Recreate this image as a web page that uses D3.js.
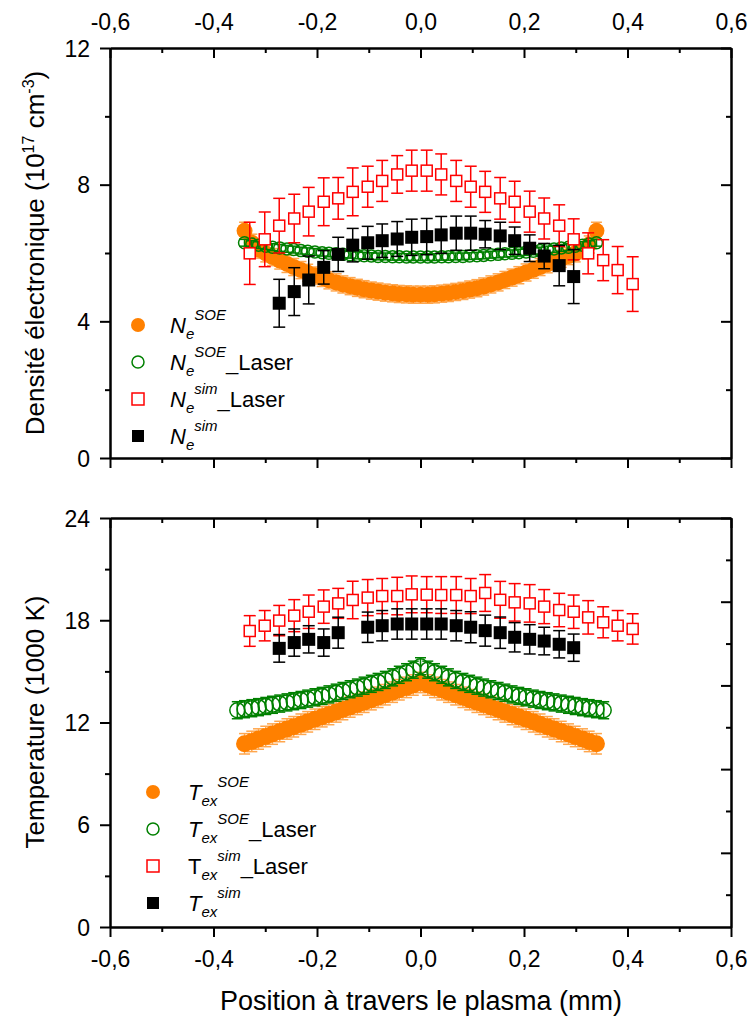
<!DOCTYPE html>
<html><head><meta charset="utf-8">
<script src="https://cdn.jsdelivr.net/npm/d3@7"></script>
<style>
body{margin:0;background:#fff}
svg{display:block}
text{font-family:"Liberation Sans",Arial,sans-serif;fill:#000}
</style>
</head><body>
<svg id="c" width="750" height="1017"></svg>
<script>
// ---------- DATA ----------
const xTicks = [-0.6,-0.4,-0.2,0.0,0.2,0.4,0.6];
const xMinorTicks = [-0.5,-0.3,-0.1,0.1,0.3,0.5];
const yTopTicks = [0,4,8,12];
const yTopMinor = [2,6,10];
const yBotTicks = [0,6,12,18,24];
const yBotMinor = [3,9,15,21];
const yBotRightTicks = [-4,-3,-2,-1,0];
const yBotRightMinor = [-4.5,-3.5,-2.5,-1.5,-0.5];

// dense SOE positions (mm)
const xSOE = [-0.340,-0.326,-0.313,-0.299,-0.286,-0.272,-0.258,-0.245,-0.231,-0.218,-0.204,-0.190,-0.177,-0.163,-0.150,-0.136,-0.122,-0.109,-0.095,-0.082,-0.068,-0.054,-0.041,-0.027,-0.014,0.000,0.014,0.027,0.041,0.054,0.068,0.082,0.095,0.109,0.122,0.136,0.150,0.163,0.177,0.190,0.204,0.218,0.231,0.245,0.258,0.272,0.286,0.299,0.313,0.326,0.340];
const xTLaser = [-0.354,-0.340,-0.326,-0.313,-0.299,-0.286,-0.272,-0.258,-0.245,-0.231,-0.218,-0.204,-0.190,-0.177,-0.163,-0.150,-0.136,-0.122,-0.109,-0.095,-0.082,-0.068,-0.054,-0.041,-0.027,-0.014,0.000,0.014,0.027,0.041,0.054,0.068,0.082,0.095,0.109,0.122,0.136,0.150,0.163,0.177,0.190,0.204,0.218,0.231,0.245,0.258,0.272,0.286,0.299,0.313,0.326,0.340,0.354];
// simulation positions (mm)
const xSim = [-0.330,-0.301,-0.273,-0.244,-0.216,-0.187,-0.159,-0.131,-0.102,-0.074,-0.045,-0.017,0.012,0.040,0.069,0.097,0.125,0.154,0.182,0.211,0.239,0.268,0.296,0.324,0.353,0.381,0.410];
const xNeSim = [-0.273,-0.244,-0.216,-0.187,-0.159,-0.131,-0.102,-0.074,-0.045,-0.017,0.012,0.040,0.069,0.097,0.125,0.154,0.182,0.211,0.239,0.268,0.296];
const xTSim = [-0.273,-0.244,-0.216,-0.187,-0.159,-0.102,-0.074,-0.045,-0.017,0.012,0.040,0.069,0.097,0.125,0.154,0.182,0.211,0.239,0.268,0.296];

// electron density (1e17 cm-3)
const neSOE = [6.65,6.30,6.10,5.99,5.88,5.78,5.68,5.59,5.50,5.42,5.34,5.27,5.20,5.14,5.08,5.03,4.98,4.94,4.90,4.87,4.84,4.82,4.80,4.79,4.78,4.78,4.78,4.79,4.81,4.83,4.86,4.89,4.93,4.97,5.02,5.08,5.14,5.21,5.28,5.35,5.43,5.51,5.59,5.67,5.75,5.83,5.91,5.99,6.08,6.25,6.65];
const neSOEErr = 0.25;
const neSOELaser = [6.30,6.26,6.23,6.20,6.17,6.15,6.12,6.10,6.07,6.05,6.03,6.01,5.99,5.98,5.96,5.95,5.93,5.92,5.91,5.90,5.90,5.89,5.89,5.88,5.88,5.88,5.88,5.88,5.89,5.89,5.90,5.90,5.91,5.92,5.93,5.95,5.96,5.98,5.99,6.01,6.03,6.05,6.07,6.10,6.12,6.15,6.17,6.20,6.23,6.26,6.30];
const neSOELaserErr = 0.1;
const neSimLaser = [5.99,6.40,6.80,7.01,7.21,7.50,7.60,7.79,7.94,8.11,8.30,8.41,8.41,8.30,8.11,7.94,7.79,7.60,7.50,7.21,7.01,6.80,6.40,5.99,5.79,5.50,5.09];
const neSimLaserErr = [0.91,0.80,0.80,0.71,0.71,0.70,0.61,0.70,0.60,0.60,0.55,0.60,0.60,0.60,0.60,0.60,0.60,0.61,0.60,0.60,0.60,0.61,0.60,0.60,0.60,0.69,0.80];
const neSim = [4.53,4.87,5.21,5.58,5.96,6.23,6.30,6.36,6.41,6.46,6.48,6.53,6.58,6.58,6.55,6.50,6.36,6.14,5.91,5.63,5.31];
const neSimErr = [0.70,0.70,0.70,0.49,0.50,0.49,0.48,0.49,0.51,0.53,0.53,0.54,0.50,0.50,0.40,0.40,0.40,0.39,0.37,0.59,0.79];

// excitation temperature (1000 K)
const tSOE = [10.75,10.89,11.03,11.18,11.32,11.47,11.62,11.75,11.90,12.04,12.19,12.34,12.47,12.62,12.76,12.91,13.06,13.19,13.34,13.48,13.63,13.78,13.92,14.06,14.20,14.35,14.20,14.06,13.92,13.78,13.63,13.48,13.34,13.19,13.06,12.91,12.76,12.62,12.47,12.34,12.19,12.04,11.90,11.75,11.62,11.47,11.32,11.18,11.03,10.89,10.75];
const tSOEErr = 0.6;
const tSOELaser = [12.72,12.78,12.84,12.90,12.97,13.04,13.11,13.18,13.25,13.32,13.40,13.48,13.56,13.65,13.75,13.85,13.95,14.05,14.16,14.27,14.38,14.50,14.65,14.80,14.95,15.10,15.30,15.10,14.95,14.80,14.65,14.50,14.38,14.27,14.16,14.05,13.95,13.85,13.75,13.65,13.56,13.48,13.40,13.32,13.25,13.18,13.11,13.04,12.97,12.90,12.84,12.78,12.72];
const tSOELaserErr = 0.5;
const tSimLaser = [17.37,17.68,17.98,18.27,18.50,18.80,18.99,19.19,19.33,19.42,19.42,19.52,19.50,19.48,19.48,19.42,19.60,19.20,19.05,18.99,18.80,18.60,18.50,18.17,17.88,17.68,17.49];
const tSimLaserErr = [0.90,0.89,0.89,0.94,0.98,0.98,0.88,1.10,1.06,1.03,1.10,1.08,1.06,1.08,1.08,1.03,1.08,1.08,1.10,1.10,1.00,0.98,0.98,0.98,0.91,0.89,0.89];
const tSim = [16.35,16.69,16.88,16.69,17.27,17.59,17.68,17.78,17.78,17.78,17.78,17.68,17.59,17.39,17.27,17.00,16.88,16.78,16.59,16.39];
const tSimErr = [0.81,0.80,0.80,0.80,0.91,0.89,0.89,0.89,0.89,0.89,0.89,0.89,0.91,0.91,0.92,0.86,0.86,0.81,0.80,0.80];

// ---------- STYLE ----------
const ORANGE = "#FF8000", GREEN = "#008000", RED = "#FF0000", BLACK = "#000000";
const FONT = '"Liberation Sans",Arial,sans-serif';

const svg = d3.select("#c");
const x = d3.scaleLinear().domain([-0.6,0.6]).range([110,731]);
const yTop = d3.scaleLinear().domain([0,12]).range([458,48]);
const yBot = d3.scaleLinear().domain([0,24]).range([927,518]);
const yBotR = d3.scaleLinear().domain([-4.886,0]).range([927,518]);

function styleAxis(g){
  g.select(".domain").attr("stroke","#000").attr("stroke-width",2);
  g.selectAll(".tick line").attr("stroke","#000").attr("stroke-width",2);
  g.selectAll("text").attr("font-family",FONT).attr("font-size",23).attr("fill","#000");
}
function addAxis(gen, tx, ty){
  const g = svg.append("g").attr("transform",`translate(${tx},${ty})`).call(gen);
  styleAxis(g);
  return g;
}

function panelAxes(y, yT, yM, yR, yRT, yRM, top, bottom){
  addAxis(d3.axisLeft(y).tickValues(yM).tickSize(5).tickSizeOuter(0).tickFormat(""), 110, 0);
  const gl = addAxis(d3.axisLeft(y).tickValues(yT).tickSize(10).tickSizeOuter(0).tickPadding(10).tickFormat(d3.format("d")), 110, 0);
  gl.selectAll("text").attr("dy","0.35em");
  addAxis(d3.axisRight(yR).tickValues(yRM).tickSize(-5).tickSizeOuter(0).tickFormat(""), 731, 0);
  addAxis(d3.axisRight(yR).tickValues(yRT).tickSize(-10).tickSizeOuter(0).tickFormat(""), 731, 0);
  addAxis(d3.axisTop(x).tickValues(xMinorTicks).tickSize(-5).tickSizeOuter(0).tickFormat(""), 0, top);
  addAxis(d3.axisBottom(x).tickValues(xMinorTicks).tickSize(5).tickSizeOuter(0).tickFormat(""), 0, bottom);
}

const fmtX = d => d3.format(".1f")(d).replace(".",",").replace("−","-");

panelAxes(yTop, yTopTicks, yTopMinor, yTop, yTopTicks, yTopMinor, 48, 458);
const gTopLab = addAxis(d3.axisTop(x).tickValues(xTicks).tickSize(-10).tickSizeOuter(0).tickPadding(18).tickFormat(fmtX), 0, 48);
gTopLab.selectAll("text").attr("dy","0");
addAxis(d3.axisBottom(x).tickValues(xTicks).tickSize(10).tickSizeOuter(0).tickFormat(""), 0, 458);

panelAxes(yBot, yBotTicks, yBotMinor, yBotR, yBotRightTicks, yBotRightMinor, 518, 927);
addAxis(d3.axisTop(x).tickValues(xTicks).tickSize(-10).tickSizeOuter(0).tickFormat(""), 0, 518);
const gBotLab = addAxis(d3.axisBottom(x).tickValues(xTicks).tickSize(10).tickSizeOuter(0).tickFormat(fmtX), 0, 927);
gBotLab.selectAll("text").attr("y",40).attr("dy","0");

// ---------- SERIES ----------
function series(y, xs, ys, es, color, capW, marker, size, fill, errColor){
  const data = xs.map((d,i)=>({x:d, y:ys[i], e:Array.isArray(es)?es[i]:es}));
  const g = svg.append("g");
  const eg = g.append("g").attr("stroke",errColor||color).attr("stroke-width",1.5);
  eg.selectAll("line.v").data(data).join("line").attr("class","v")
    .attr("x1",d=>x(d.x)).attr("x2",d=>x(d.x))
    .attr("y1",d=>y(d.y-d.e)).attr("y2",d=>y(d.y+d.e));
  eg.selectAll("line.t").data(data).join("line").attr("class","t")
    .attr("x1",d=>x(d.x)-capW/2).attr("x2",d=>x(d.x)+capW/2)
    .attr("y1",d=>y(d.y+d.e)).attr("y2",d=>y(d.y+d.e));
  eg.selectAll("line.b").data(data).join("line").attr("class","b")
    .attr("x1",d=>x(d.x)-capW/2).attr("x2",d=>x(d.x)+capW/2)
    .attr("y1",d=>y(d.y-d.e)).attr("y2",d=>y(d.y-d.e));
  const mg = g.append("g");
  if(marker==="circle"){
    mg.selectAll("circle").data(data).join("circle")
      .attr("cx",d=>x(d.x)).attr("cy",d=>y(d.y)).attr("r",size)
      .attr("fill",fill).attr("stroke",color).attr("stroke-width",fill===color?0:1.5);
  } else {
    mg.selectAll("rect").data(data).join("rect")
      .attr("x",d=>x(d.x)-size/2).attr("y",d=>y(d.y)-size/2)
      .attr("width",size).attr("height",size)
      .attr("fill",fill).attr("stroke",color).attr("stroke-width",fill===color?0:1.5);
  }
}

series(yTop, xSOE, neSOE, neSOEErr, ORANGE, 11, "circle", 8, ORANGE, "#FFA64D");
series(yTop, xSOE, neSOELaser, neSOELaserErr, GREEN, 11, "circle", 6, "none");
series(yTop, xSim, neSimLaser, neSimLaserErr, RED, 12, "rect", 11, "#fff");
series(yTop, xNeSim, neSim, neSimErr, BLACK, 12, "rect", 13, BLACK);

series(yBot, xSOE, tSOE, tSOEErr, ORANGE, 11, "circle", 8.5, ORANGE, "#FFA64D");
series(yBot, xTLaser, tSOELaser, tSOELaserErr, GREEN, 11, "circle", 7.5, "none");
series(yBot, xSim, tSimLaser, tSimLaserErr, RED, 12, "rect", 11, "#fff");
series(yBot, xTSim, tSim, tSimErr, BLACK, 12, "rect", 13, BLACK);

// ---------- LEGENDS ----------
function legendSym(cx, cy, kind){
  if(kind==="o") svg.append("circle").attr("cx",cx).attr("cy",cy).attr("r",7).attr("fill",ORANGE);
  if(kind==="g") svg.append("circle").attr("cx",cx).attr("cy",cy).attr("r",6).attr("fill","none").attr("stroke",GREEN).attr("stroke-width",1.5);
  if(kind==="r") svg.append("rect").attr("x",cx-6).attr("y",cy-6).attr("width",12).attr("height",12).attr("fill","#fff").attr("stroke",RED).attr("stroke-width",1.5);
  if(kind==="b") svg.append("rect").attr("x",cx-6).attr("y",cy-6).attr("width",12).attr("height",12).attr("fill",BLACK);
}
function legendText(tx, ty, main, mainItalic, sub, sup, tail){
  const t = svg.append("text").attr("x",tx).attr("y",ty).attr("font-size",22);
  t.append("tspan").attr("font-style",mainItalic?"italic":"normal").text(main);
  t.append("tspan").attr("font-style","italic").attr("font-size",15).attr("dy",6).text(sub);
  t.append("tspan").attr("font-style","italic").attr("font-size",15).attr("dy",-19).text(sup);
  if(tail) t.append("tspan").attr("dy",13).text(tail);
}
const topLegY = [325,362,399,436];
const topLegKinds = ["o","g","r","b"];
const topLegSup = ["SOE","SOE","sim","sim"];
const topLegTail = ["","_Laser","_Laser",""];
topLegY.forEach((yy,i)=>{
  legendSym(138, yy, topLegKinds[i]);
  legendText(170, yy+8, "N", true, "e", topLegSup[i], topLegTail[i]);
});
const botLegY = [792,829,866,903];
const botLegItalic = [true,true,false,true];
botLegY.forEach((yy,i)=>{
  legendSym(153, yy, topLegKinds[i]);
  legendText(188, yy+8, "T", botLegItalic[i], "ex", topLegSup[i], topLegTail[i]);
});

// ---------- AXIS TITLES ----------
const t1 = svg.append("text").attr("transform","translate(44,253) rotate(-90)")
  .attr("text-anchor","middle").attr("font-size",26);
t1.append("tspan").text("Densité électronique (10");
t1.append("tspan").attr("font-size",16).attr("dy",-10).text("17");
t1.append("tspan").attr("dy",10).text(" cm");
t1.append("tspan").attr("font-size",16).attr("dy",-10).text("-3");
t1.append("tspan").attr("dy",10).text(")");

svg.append("text").attr("transform","translate(44,722) rotate(-90)")
  .attr("text-anchor","middle").attr("font-size",26).text("Temperature (1000 K)");

svg.append("text").attr("x",421).attr("y",1010).attr("text-anchor","middle")
  .attr("font-size",27).text("Position à travers le plasma (mm)");
</script>
</body></html>
